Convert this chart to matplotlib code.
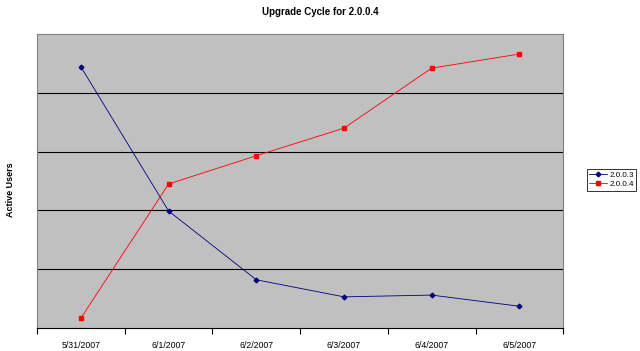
import numpy as np
import matplotlib
matplotlib.use('Agg')
import matplotlib.pyplot as plt

plt.rcParams['font.family'] = ['Liberation Sans', 'DejaVu Sans']

dates = ['5/31/2007', '6/1/2007', '6/2/2007', '6/3/2007', '6/4/2007', '6/5/2007']
users_2003 = [444, 199, 82, 53, 56, 37]
users_2004 = [17, 245, 293, 340, 442, 466]

fig = plt.figure(figsize=(6.4, 3.51), dpi=100)
ax = fig.add_axes([0.058, 0.0655, 0.822, 0.8375])
ax.set_facecolor('#c0c0c0')

x = np.arange(len(dates))
ax.plot(x, users_2003, color='#000080', lw=0.6, marker='D', ms=2.4, label='2.0.0.3')
ax.plot(x, users_2004, color='#ff0000', lw=0.6, marker='s', ms=2.4, label='2.0.0.4')

ax.set_xlim(-0.5, len(dates) - 0.5)
ax.set_ylim(0, 500)
ax.set_yticks(np.arange(100, 500, 100))
ax.yaxis.grid(True, color='black', lw=0.8)
ax.tick_params(axis='y', length=0, labelleft=False)

ax.set_xticks(x)
ax.set_xticklabels(dates, fontsize=6.3)
ax.set_xticks(np.arange(-0.5, len(dates), 1), minor=True)
ax.tick_params(axis='x', which='major', length=0, pad=9)
ax.tick_params(axis='x', which='minor', length=4, width=0.8, direction='out')

for s in ['top', 'right', 'left']:
    ax.spines[s].set_color('#808080')
    ax.spines[s].set_linewidth(0.8)
ax.spines['bottom'].set_color('black')
ax.spines['bottom'].set_linewidth(0.8)

fig.text(0.5, 0.965, 'Upgrade Cycle for 2.0.0.4', ha='center', va='center',
         fontsize=7, fontweight='bold')
fig.text(0.016, 0.46, 'Active Users', ha='center', va='center', rotation=90,
         fontsize=6.5, fontweight='bold')

leg = fig.legend(loc='upper left', bbox_to_anchor=(587 / 640, 1 - 169 / 351),
                 borderaxespad=0, fontsize=5.8,
                 frameon=True, fancybox=False, edgecolor='black',
                 handlelength=2.2, handletextpad=0.3, borderpad=0.3,
                 labelspacing=0.2)
leg.get_frame().set_linewidth(0.7)

fig.savefig('out.png', dpi=100)
